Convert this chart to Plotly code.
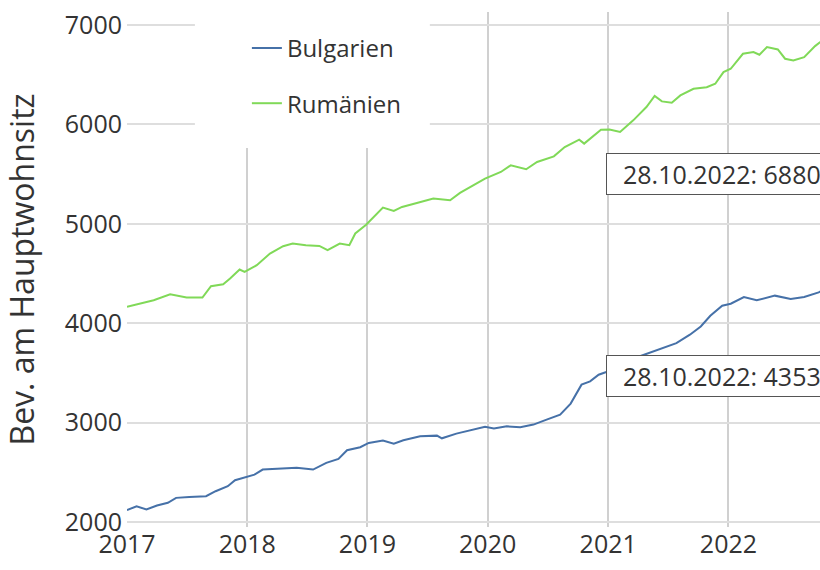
import plotly.graph_objects as go

# ---- data ----
bg_dates = ["2017-01-01", "2017-01-30", "2017-03-01", "2017-04-02", "2017-05-05", "2017-05-30",
            "2017-07-09", "2017-08-29", "2017-09-27", "2017-11-03", "2017-11-25", "2017-12-28",
            "2018-01-23", "2018-02-17", "2018-04-09", "2018-05-31", "2018-07-20", "2018-08-29",
            "2018-10-05", "2018-10-31", "2018-12-10", "2019-01-05", "2019-02-17", "2019-03-22",
            "2019-04-20", "2019-06-10", "2019-07-31", "2019-08-15", "2019-09-28", "2019-11-10",
            "2019-12-24", "2020-01-20", "2020-02-28", "2020-04-09", "2020-05-19", "2020-06-28",
            "2020-08-08", "2020-09-09", "2020-09-27", "2020-10-12", "2020-11-07", "2020-12-03",
            "2020-12-24", "2021-02-06", "2021-03-15", "2021-04-27", "2021-06-18", "2021-07-27",
            "2021-09-06", "2021-10-09", "2021-11-07", "2021-12-13", "2022-01-08", "2022-02-17",
            "2022-03-28", "2022-05-22", "2022-07-09", "2022-08-19", "2022-10-02", "2022-10-28"]
bg_values = [2119, 2159, 2126, 2166, 2193, 2243,
             2253, 2260, 2310, 2360, 2420, 2454,
             2477, 2528, 2535, 2545, 2528, 2595,
             2635, 2722, 2752, 2796, 2819, 2789,
             2822, 2863, 2869, 2842, 2889, 2920,
             2957, 2940, 2963, 2953, 2980, 3030,
             3080, 3191, 3298, 3382, 3415, 3482,
             3506, 3560, 3640, 3693, 3750, 3800,
             3884, 3967, 4075, 4176, 4196, 4263,
             4230, 4277, 4244, 4263, 4310, 4353]

ro_dates = ["2017-01-01", "2017-03-23", "2017-05-12", "2017-07-01", "2017-08-18", "2017-09-13",
            "2017-10-20", "2017-11-10", "2017-12-09", "2017-12-24", "2018-01-30", "2018-03-11",
            "2018-04-20", "2018-05-19", "2018-06-28", "2018-08-08", "2018-09-02", "2018-10-09",
            "2018-11-07", "2018-11-25", "2018-12-28", "2019-02-17", "2019-03-22", "2019-04-16",
            "2019-05-31", "2019-07-20", "2019-09-09", "2019-10-09", "2019-11-18", "2019-12-24",
            "2020-02-10", "2020-03-11", "2020-04-27", "2020-05-30", "2020-07-20", "2020-08-22",
            "2020-10-05", "2020-10-20", "2020-12-10", "2021-01-05", "2021-02-06", "2021-03-18",
            "2021-04-27", "2021-05-22", "2021-06-13", "2021-07-13", "2021-08-08", "2021-09-17",
            "2021-10-27", "2021-11-22", "2021-12-17", "2022-01-08", "2022-02-14", "2022-03-18",
            "2022-04-05", "2022-04-28", "2022-05-31", "2022-06-22", "2022-07-17", "2022-08-19",
            "2022-09-21", "2022-10-08", "2022-10-28"]
ro_values = [4164, 4231, 4291, 4258, 4258, 4372,
             4392, 4449, 4540, 4516, 4583, 4700,
             4774, 4801, 4784, 4777, 4734, 4801,
             4784, 4902, 4990, 5163, 5129, 5169,
             5209, 5253, 5236, 5310, 5387, 5454,
             5521, 5588, 5548, 5621, 5678, 5772,
             5846, 5806, 5945, 5947, 5923, 6040,
             6174, 6285, 6231, 6218, 6291, 6358,
             6374, 6408, 6525, 6559, 6710, 6727,
             6700, 6777, 6753, 6660, 6643, 6676,
             6787, 6830, 6880]

series_names = ["Bulgarien", "Rumänien"]
year_ticks = ["2017-01-01", "2018-01-01", "2019-01-01", "2020-01-01", "2021-01-01", "2022-01-01"]
y_ticks = [2000, 3000, 4000, 5000, 6000, 7000]

BLUE = "#4671a8"
GREEN = "#80d958"
FONT = "Open Sans"
TXT = "#333333"


def label(dates, values):
    y, m, d = dates[-1].split("-")
    return f"&nbsp;&nbsp;{d}.{m}.{y}: {values[-1]}&nbsp;&nbsp;"


fig = go.Figure()
fig.add_trace(go.Scatter(x=bg_dates, y=bg_values, mode="lines", name=series_names[0],
                         legendgroup="a", line=dict(color=BLUE, width=2)))
fig.add_trace(go.Scatter(x=ro_dates, y=ro_values, mode="lines", name=series_names[1],
                         legendgroup="b", line=dict(color=GREEN, width=2)))

# white panel behind the legend
fig.add_shape(type="rect", xref="paper", yref="paper", x0=0.098, x1=0.437, y0=0.736, y1=1.03,
              fillcolor="white", line=dict(width=0), layer="above")

for txt, yp in [(label(ro_dates, ro_values), 0.685), (label(bg_dates, bg_values), 0.293)]:
    fig.add_annotation(xref="paper", yref="paper", x=0.691, y=yp, xanchor="left", yanchor="middle",
                       text=txt, showarrow=False, align="left",
                       font=dict(family=FONT, size=25, color=TXT),
                       bgcolor="white", bordercolor="#555555", borderwidth=1, borderpad=3)

fig.update_layout(
    width=820, height=570,
    margin=dict(l=127, r=0, t=12, b=43, autoexpand=False),
    paper_bgcolor="white", plot_bgcolor="white",
    font=dict(family=FONT, size=24, color=TXT),
    legend=dict(x=0.173, y=0.973, xanchor="left", yanchor="top", bgcolor="rgba(0,0,0,0)",
                font=dict(family=FONT, size=24, color=TXT), tracegroupgap=21,
                traceorder="grouped"),
    xaxis=dict(type="date", range=["2017-01-01", "2022-10-06"], tickvals=year_ticks,
               tickformat="%Y", showgrid=True, gridcolor="#d0d0d0", gridwidth=1.5,
               zeroline=False, showline=False, ticks="", automargin=False,
               ticklabeloverflow="allow",
               tickfont=dict(family=FONT, size=25, color=TXT)),
    yaxis=dict(range=[1950, 7130], tickvals=y_ticks, showgrid=True, gridcolor="#dedede",
               gridwidth=2, zeroline=False, showline=False, ticks="", automargin=False,
               ticklabeloverflow="allow", ticklabelstandoff=4,
               tickfont=dict(family=FONT, size=25, color=TXT),
               title=dict(text="Bev. am Hauptwohnsitz", font=dict(family=FONT, size=32, color=TXT),
                          standoff=20)),
)

# remove the default page margin so the 820x570 figure fills the window exactly
fig.write_html("out.html", config={"displayModeBar": False},
               post_script="document.body.style.margin='0';document.body.style.overflow='hidden';")
